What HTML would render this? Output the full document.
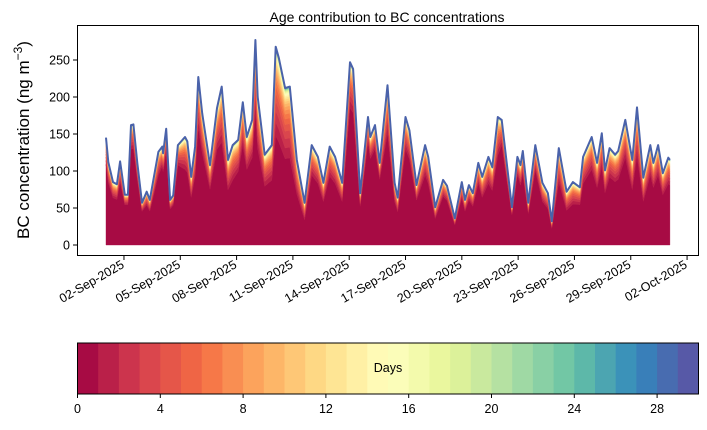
<!DOCTYPE html>
<html><head><meta charset="utf-8"><style>
body{margin:0;background:#fff;}
svg text{font-family:"Liberation Sans",sans-serif;fill:#000;}
</style></head><body>
<svg id="c" width="707" height="425" viewBox="0 0 707 425" xmlns="http://www.w3.org/2000/svg">
<text x="387" y="22" font-size="14" text-anchor="middle">Age contribution to BC concentrations</text>
<g id="layers"></g>
<g id="yaxis"></g>
<g id="xaxis"></g>
<rect x="77.5" y="25.5" width="621" height="230" fill="none" stroke="#000" stroke-width="1"/>
<text transform="translate(29,140) rotate(-90)" font-size="17" text-anchor="middle">BC concentration (ng m<tspan baseline-shift="super" font-size="12">−3</tspan>)</text>
<g id="cbar"></g>
</svg>
<script>
// hours since 01-Sep-2025 00:00
const hours=[1,4,10,15,19,25,29,33,36,41,47,53,57,68,73,74,78,83,87,93,102,105,110,115,119,124,134,143,149,157,163,170,176,181,188,192,195,204,213,218,222,230,236,245,255,264,272,279,287,294,303,313,317,326,336,339,345,351,361,370,374,384,389,398,409,413,422,432,437,447,456,460,465,470,477,482,490,495,502,507,520,527,531,534,541,550,559,566,571,580,590,598,607,611,622,629,635,639,645,652,656,665,674,680,688,697,701,707,713,720,722];
const totals=[145,112,85,82,113,68,68,162,163,111,57,72,61,126,133,124,157,61,67,135,146,140,92,133,227,178,108,185,214,115,135,142,193,146,169,277,200,122,135,268,253,212,214,115,57,135,119,84,133,119,84,247,238,70,173,146,162,111,216,84,64,173,155,81,135,119,51,88,80,36,85,61,81,70,111,92,119,105,173,169,51,119,108,127,57,135,84,70,32,131,72,85,78,119,146,111,151,101,131,122,127,169,115,186,91,135,111,135,97,118,115];
// fraction of concentration older than ~1 day, per calendar day
const agedShare=[0.25,0.2,0.25,0.2,0.3,0.3,0.35,0.3,0.35,0.45,0.4,0.3,0.3,0.25,0.2,0.3,0.25,0.3,0.25,0.25,0.3,0.2,0.25,0.3,0.35,0.3,0.3,0.3,0.35,0.3,0.3];
const yTicks=[0,50,100,150,200,250];
const xTickDays=[1,4,7,10,13,16,19,22,25,28,31];
const xTickLabels=["02-Sep-2025","05-Sep-2025","08-Sep-2025","11-Sep-2025","14-Sep-2025","17-Sep-2025","20-Sep-2025","23-Sep-2025","26-Sep-2025","29-Sep-2025","02-Oct-2025"];
const cbTicks=[0,4,8,12,16,20,24,28];

const NS="http://www.w3.org/2000/svg";
const X=h=>105.2+h/24*18.77;
const Y=v=>245-v*0.74;
const stops=["#9e0142","#d53e4f","#f46d43","#fdae61","#fee08b","#ffffbf","#e6f598","#abdda4","#66c2a5","#3288bd","#5e4fa2"];
function hx(c){return [1,3,5].map(i=>parseInt(c.substr(i,2),16));}
function spectral(t){const p=t*10,i=Math.min(9,Math.floor(p)),f=p-i;const a=hx(stops[i]),b=hx(stops[i+1]);return "rgb("+a.map((v,k)=>Math.round(v+(b[k]-v)*f)).join(",")+")";}
function el(tag,attrs,parent){const e=document.createElementNS(NS,tag);for(const k in attrs)e.setAttribute(k,attrs[k]);parent.appendChild(e);return e;}

// stacked layers
const N=30;const w=[];let ws=0;for(let k=1;k<N;k++){w.push(Math.pow(0.85,k));ws+=Math.pow(0.85,k);}
const layersG=document.getElementById('layers');
const aged=hours.map((h,i)=>totals[i]*agedShare[Math.min(agedShare.length-1,Math.floor(h/24))]);
let lower=hours.map(()=>0);
for(let k=0;k<N;k++){
  const upper=hours.map((h,i)=>k===0?totals[i]-aged[i]:lower[i]+aged[i]*w[k-1]/ws);
  let d="M"+hours.map((h,i)=>X(h).toFixed(1)+","+Y(upper[i]).toFixed(1)).join("L");
  for(let i=hours.length-1;i>=0;i--)d+="L"+X(hours[i]).toFixed(1)+","+Y(lower[i]).toFixed(1);
  const p=el('path',{d:d+"Z",fill:spectral((k+0.5)/N),stroke:spectral((k+0.5)/N),'stroke-width':0.4},layersG);
  
  
  lower=upper;
}
const line=el('path',{d:"M"+hours.map((h,i)=>X(h).toFixed(1)+","+Y(totals[i]).toFixed(1)).join("L"),fill:"none",stroke:"#4a62aa",'stroke-width':2,'stroke-linejoin':'round'},layersG);



// y axis
const ya=document.getElementById('yaxis');
yTicks.forEach(v=>{
  const t=el('line',{x1:73,x2:77,y1:Y(v),y2:Y(v),stroke:"#000"},ya);
  
  
  const tx=el('text',{x:70,y:Y(v)+4.5,'font-size':12.5,'text-anchor':'end'},ya);tx.textContent=v;
  
  
});
// x axis
const xa=document.getElementById('xaxis');
xTickDays.forEach((d,i)=>{
  const x=X(d*24);
  const t=el('line',{x1:x,x2:x,y1:256,y2:260,stroke:"#000"},xa);
  
  
  const tx=el('text',{transform:`translate(${x+1},${267}) rotate(-30)`,'font-size':12.5,'text-anchor':'end'},xa);tx.textContent=xTickLabels[i];
  
  
});
// colorbar
const cb=document.getElementById('cbar');
const cx0=77.5,cx1=698.5,cw=(cx1-cx0)/N;
for(let k=0;k<N;k++){
  const r=el('rect',{x:cx0+k*cw,y:343,width:cw+0.4,height:51,fill:spectral((k+0.5)/N)},cb);
  
  
}
const fr=el('rect',{x:cx0,y:343,width:cx1-cx0,height:51,fill:"none",stroke:"#000"},cb);


const lab=el('text',{x:388,y:372,'font-size':12.5,'text-anchor':'middle'},cb);lab.textContent="Days";


cbTicks.forEach(v=>{
  const x=cx0+v*(cx1-cx0)/N;
  const t=el('line',{x1:x,x2:x,y1:394,y2:398,stroke:"#000"},cb);
  
  
  const tx=el('text',{x:x,y:413,'font-size':12.5,'text-anchor':'middle'},cb);tx.textContent=v;
  
  
});
</script>
</body></html>
